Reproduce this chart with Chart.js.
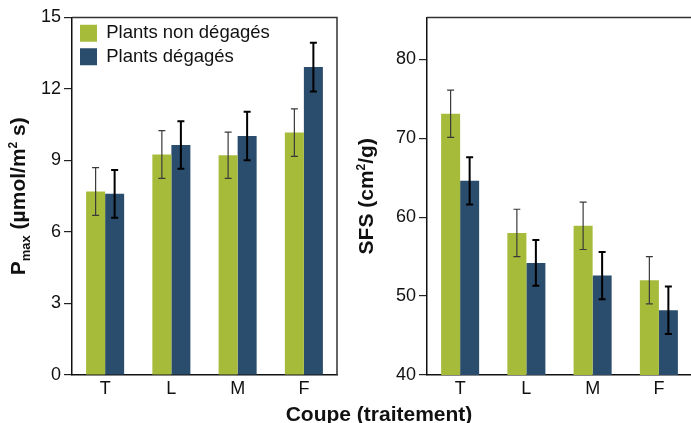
<!DOCTYPE html>
<html>
<head>
<meta charset="utf-8">
<script src="https://cdn.jsdelivr.net/npm/chart.js@4.4.1/dist/chart.umd.min.js"></script>
<style>
  html, body { margin: 0; padding: 0; width: 691px; height: 423px; overflow: hidden; background: #fff; }
  canvas { position: absolute; top: 0; }
  #left { left: 0; }
  #right { left: 345px; }
  #xtitle {
    position: absolute; left: 279px; top: 403px; width: 200px; text-align: center;
    font: bold 21px "Liberation Sans", Arial, sans-serif; line-height: 21px; color: #111; white-space: nowrap;
  }
</style>
</head>
<body>
<canvas id="left" width="345" height="423"></canvas>
<canvas id="right" width="350" height="423"></canvas>
<div id="xtitle">Coupe (traitement)</div>
<script>
var categories = ["T", "L", "M", "F"];
var seriesNames = ["Plants non dégagés", "Plants dégagés"];

var pmaxNon = [7.7, 9.25, 9.22, 10.17];
var pmaxNonErr = [1.0, 1.0, 0.97, 1.0];
var pmaxDeg = [7.6, 9.65, 10.03, 12.92];
var pmaxDegErr = [1.0, 1.0, 1.02, 1.02];

var sfsNon = [73.1, 58.0, 58.9, 52.0];
var sfsNonErr = [3.0, 3.0, 3.0, 3.0];
var sfsDeg = [64.6, 54.2, 52.6, 48.2];
var sfsDegErr = [3.0, 2.9, 3.0, 3.0];

var sfsTicks = [40, 50, 60, 70, 80];

var GREEN = "#A7BB3B";
var BLUE = "#2A4C6D";
var FONT = '"Liberation Sans", Arial, sans-serif';

// error bars, drawn from each bar's own position
var errorBars = {
  id: "errorBars",
  afterDatasetsDraw: function (chart) {
    var ctx = chart.ctx;
    var yScale = chart.scales.y;
    chart.data.datasets.forEach(function (ds, i) {
      var meta = chart.getDatasetMeta(i);
      ctx.save();
      ctx.strokeStyle = ds.errColor;
      ctx.lineWidth = ds.errWidth;
      meta.data.forEach(function (bar, j) {
        var v = ds.data[j];
        var e = ds.errors[j];
        var top = yScale.getPixelForValue(v + e);
        var bot = yScale.getPixelForValue(v - e);
        ctx.beginPath();
        ctx.moveTo(bar.x, top);
        ctx.lineTo(bar.x, bot);
        ctx.moveTo(bar.x - 3.5, top);
        ctx.lineTo(bar.x + 3.5, top);
        ctx.moveTo(bar.x - 3.5, bot);
        ctx.lineTo(bar.x + 3.5, bot);
        ctx.stroke();
      });
      ctx.restore();
    });
  },
};

// top / right frame lines
var frame = {
  id: "frame",
  afterDraw: function (chart) {
    var a = chart.chartArea;
    var ctx = chart.ctx;
    ctx.save();
    ctx.strokeStyle = "#333";
    ctx.lineWidth = 1.5;
    ctx.beginPath();
    ctx.moveTo(a.left, a.top);
    ctx.lineTo(a.right, a.top);
    ctx.lineTo(a.right, a.bottom);
    ctx.stroke();
    ctx.restore();
  },
};

// keep the legend inside the plot, top left
var legendInside = {
  id: "legendInside",
  afterLayout: function (chart) {
    var lg = chart.legend;
    if (!lg) return;
    var a = chart.chartArea;
    var h = lg.height;
    lg.left = a.left + 3;
    lg.right = a.right;
    lg.top = a.top + 1.5;
    lg.bottom = lg.top + h;
  },
};

// rotated y title with sub/superscripts
function yTitle(parts, baseX) {
  return {
    id: "yTitle",
    afterDraw: function (chart) {
      var ctx = chart.ctx;
      var a = chart.chartArea;
      ctx.save();
      ctx.fillStyle = "#111";
      ctx.textBaseline = "alphabetic";
      ctx.textAlign = "left";
      var total = 0;
      parts.forEach(function (p) {
        ctx.font = "bold " + p.size + "px " + FONT;
        total += ctx.measureText(p.t).width;
      });
      ctx.translate(baseX, (a.top + a.bottom) / 2);
      ctx.rotate(-Math.PI / 2);
      var x = -total / 2;
      parts.forEach(function (p) {
        ctx.font = "bold " + p.size + "px " + FONT;
        ctx.fillText(p.t, x, p.dy || 0);
        x += ctx.measureText(p.t).width;
      });
      ctx.restore();
    },
  };
}

function makeChart(el, nonData, nonErr, degData, degErr, yOpts, axisWidth, padRight, showLegend, titlePlugin) {
  return new Chart(el, {
    type: "bar",
    data: {
      labels: categories,
      datasets: [
        {
          label: seriesNames[0],
          data: nonData,
          errors: nonErr,
          backgroundColor: GREEN,
          errColor: "#3a3a3a",
          errWidth: 1.2,
        },
        {
          label: seriesNames[1],
          data: degData,
          errors: degErr,
          backgroundColor: BLUE,
          errColor: "#000",
          errWidth: 2,
        },
      ],
    },
    options: {
      responsive: false,
      animation: false,
      layout: { padding: { top: 17.5, right: padRight, left: 0, bottom: 0 } },
      datasets: { bar: { categoryPercentage: 0.574, barPercentage: 1.0 } },
      plugins: {
        legend: {
          display: showLegend,
          position: "chartArea",
          align: "start",
          labels: {
            boxWidth: 17,
            boxHeight: 17,
            padding: 5,
            color: "#111",
            font: { family: FONT, size: 18.5 },
          },
        },
        tooltip: { enabled: false },
      },
      scales: {
        x: {
          grid: { display: false, drawTicks: false },
          border: { display: true, color: "#111", width: 1.5 },
          ticks: { color: "#111", padding: 3, font: { family: FONT, size: 18 } },
          afterFit: function (scale) { scale.height = 48; },
        },
        y: Object.assign({
          grid: { display: true, drawOnChartArea: false, drawTicks: true, tickLength: 8, color: "#222", lineWidth: 1.2 },
          border: { display: true, color: "#111", width: 1.5 },
          afterFit: function (scale) { scale.width = axisWidth; },
        }, yOpts),
      },
    },
    plugins: [errorBars, frame, legendInside, titlePlugin],
  });
}

makeChart(
  document.getElementById("left"),
  pmaxNon, pmaxNonErr, pmaxDeg, pmaxDegErr,
  {
    min: 0,
    max: 15,
    ticks: { stepSize: 3, color: "#111", padding: 3, font: { family: FONT, size: 18 } },
  },
  72, 8, true,
  yTitle([
    { t: "P", size: 21 },
    { t: "max", size: 13, dy: 5 },
    { t: " (µmol/m", size: 21 },
    { t: "2", size: 12, dy: -8 },
    { t: " s)", size: 21 },
  ], 25)
);

makeChart(
  document.getElementById("right"),
  sfsNon, sfsNonErr, sfsDeg, sfsDegErr,
  {
    min: 40,
    max: 85.3,
    ticks: { color: "#111", padding: 3, font: { family: FONT, size: 18 } },
    afterBuildTicks: function (scale) {
      scale.ticks = sfsTicks.map(function (v) { return { value: v }; });
    },
  },
  82, 3, false,
  yTitle([
    { t: "SFS (cm", size: 21 },
    { t: "2", size: 12, dy: -8 },
    { t: "/g)", size: 21 },
  ], 28)
);
</script>
</body>
</html>
